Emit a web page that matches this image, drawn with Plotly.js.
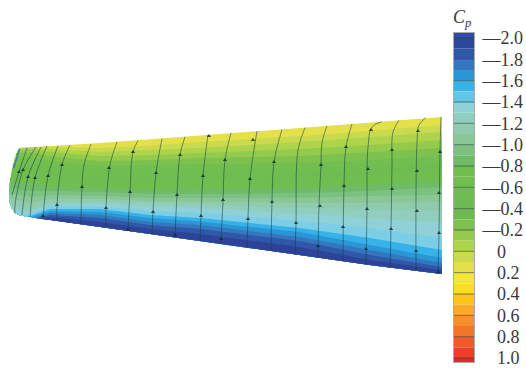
<!DOCTYPE html>
<html><head><meta charset="utf-8">
<script src="https://cdn.plot.ly/plotly-3.0.1.min.js"></script>
<style>html,body{margin:0;padding:0;background:#fff}#c{width:526px;height:368px}</style></head>
<body><div id="c"></div>
<script>
// Colour bar: band upper/lower Cp limits and colours, top to bottom
const bandLow  = [-2.047,-2.0,-1.9,-1.8,-1.7,-1.6,-1.5,-1.4,-1.3,-1.2,-1.1,-1.0,-0.9,-0.8,-0.7,-0.6,-0.5,-0.4,-0.3,-0.2,-0.1,0,0.1,0.2,0.3,0.4,0.5,0.6,0.7,0.8,0.9,1.0];
const bandHigh = [-2.0,-1.9,-1.8,-1.7,-1.6,-1.5,-1.4,-1.3,-1.2,-1.1,-1.0,-0.9,-0.8,-0.7,-0.6,-0.5,-0.4,-0.3,-0.2,-0.1,0,0.1,0.2,0.3,0.4,0.5,0.6,0.7,0.8,0.9,1.0,1.0375];
const bandColor = ['#2f4da4','#2d479f','#2f58a9','#3577bf','#2a96d6','#36b2e8','#62c5ea','#8fd1d6','#92cebe','#90cbae','#8ac797','#7cc180','#6fbb68','#70bd50','#70bd50','#6fbd52','#6dbb52','#6cbb52','#7dc24f','#95cb4c','#aed44c','#c9da4e','#e3e04a','#f2e63a','#fadf20','#fcc51c','#fbaa2a','#f68f2c','#f2752a','#ef5a2a','#ee3f2c','#e9252b'];
const lineCp = [-2.0,-1.8,-1.6,-1.4,-1.2,-1.0,-0.8,-0.6,-0.4,-0.2,0,0.2,0.4,0.6,0.8,1.0];
const negTicks = [-2.0,-1.8,-1.6,-1.4,-1.2,-1.0,-0.8,-0.6,-0.4,-0.2];
const negLabels = ['—2.0','—1.8','—1.6','—1.4','—1.2','—1.0','—0.8','—0.6','—0.4','—0.2'];
const posTicks = [0,0.2,0.4,0.6,0.8,1.0];
const posLabels = ['0','0.2','0.4','0.6','0.8','1.0'];

// Wing surface: Cp isolines read at these span stations
const stations = [30,50,100,150,200,300,370,442];
const isoLevels = [0.2,0.1,0,-0.1,-0.2,-0.3,-0.4,-0.5,-0.6,-0.7,-0.8,-0.9,-1.0,-1.1,-1.2,-1.3,-1.4,-1.5,-1.6,-1.7,-1.8,-1.9];
const noseX = [19,19,19,17.5,16,14.5,13,12,11,10,9.5,9,8.7,9,10,12.5,17,27,31,34,36,39];
const noseY = [148,148,148,150,153,158,163,168,173,178,183,188,193,198,204,208.5,214.2,216.5,217.3,218,218.3,218.7];
const iso = [
 [147.5,146,143,139.6,135.5,128,122.5,117],
 [147.5,146.5,148,145.5,142,136,131,125],
 [147.6,149,152,150,148,142,137,132],
 [149,152,156,155,153,149,145,140],
 [152,156,161,160,158,156,152,148],
 [157,161,166,165,164,163,160,156],
 [162,166,171,170,169,168,165,161],
 [167,171,176,175,174,173,170,166],
 [172,176,181,180,179,178,175,171],
 [177,181,186,185,184,183,180,176],
 [182,186,188,190,189,188,185,181],
 [191,191,192,194,194,193,191,187],
 [197,195,196,198,198,198,196,195],
 [203,199,199,201,202,203,203,202],
 [209,203,201,203,205,208,209,211],
 [212,204.5,204,206,208,214,218,223],
 [214.5,206,206.5,211,213,221,228,238],
 [216,209,209,215,218,228,238,250],
 [217.3,211,212,218,221.5,232,245,258],
 [218,213,215,222,225,237,250,263],
 [218.3,215,218,225,229,241,255,267],
 [218.7,217,222,229,234,247,260,270]
];
const isoColor = ['#e3e04a','#c9da4e','#aed44c','#95cb4c','#7dc24f','#72be50','#70bd50','#6fbd52','#70bd50','#70bd50','#6fbb68','#7cc180','#8ac797','#90cbae','#92cebe','#8fd1d6','#7ccde6','#36b2e8','#2a96d6','#3577bf','#2f58a9','#2f4299'];
const lowerX = [442,370,300,200,150,100,50,30,20,15,12,10,9];
const lowerY = [274,265,255,241,234,227,220,217,215.5,213,208.5,204,195];
const leadX = [19,15,13,14.5,17,20];
const leadY = [148,161,168,168,160,150];

// Surface streamlines
const streamX = [
 [27,19,12],[36,23,15,15],[41,28,22],[47,35,30],[58,48,43],[70,62,57,57],[91,84,82,81],[117,110,106,106],
 [138,133,130,128],[162,156,153,152],[185,180,177,175],[208,203,201,200],[231,225,223,221],[257,250,248,247],[282,274,272,271],
 [305,298,296,295],[327,322,321,319,318],[352,346,344,343],[382,372,368,367,366],[399,393,392,391,390],[426,419,417,416],[441,440,439,438]
];
const streamY = [
 [148,172,195],[147,170,205,213],[147,177,215],[146,178,217],[146,176,219],[145,165,205,221],[144,165,187,224],[142,165,208,227],
 [140.5,152,192,231],[138.7,173,212,234],[136.7,155,195,237.5],[134.9,176,216,241],[133,160,200,244],[131,179,219,247.7],[129.4,162,202,251],
 [127.6,150,223,254.3],[125.9,143,165,206,257.5],[124,147,186,261],[121.6,127,147,209,264.4],[120.2,132,166,229,268],[117.5,125,143,270.5],[117,152,233,273.6]
];
const arrowX = [19,23,28,35,48,62,57,43,82,106,109,133,130,128,156,153,180,177,175,203,201,209,225,223,221,250,248,253,274,272,296,321,320,318,346,344,343,371,368,367,366,392,392,391,418,417,417,416,440,439,439,438];
const arrowY = [172,170,177,178,176,165,205,216,187,208,168,152,192,230,173,212,155,195,235,176,216,136,160,200,239,179,219,140,162,202,223,165,206,246,147,186,227,130,169,209,249,150,189,229,131,171,211,251,152,193,233,272];

const traces = [];
// filled Cp bands, painted from the upper surface downward
isoLevels.forEach((lev,k)=>{
  const nx = noseX[k];
  const sx = [], sy = [];
  stations.forEach((s,j)=>{ if(s>nx){sx.push(s);sy.push(iso[k][j]);} });
  const onLower = k>=16;   // these isolines start on the lower surface
  const lx = [], ly = [];
  lowerX.forEach((s,j)=>{ if(!onLower || s>nx){lx.push(s);ly.push(lowerY[j]);} });
  traces.push({type:'scatter',mode:'lines',fill:'toself',fillcolor:isoColor[k],line:{width:0},hoverinfo:'skip',
    name:'Cp '+lev,
    x:[nx].concat(sx,lx),
    y:[noseY[k]].concat(sy,ly)});
});
traces.push({type:'scatter',mode:'lines',fill:'toself',fillcolor:'rgba(53,110,190,0.85)',line:{width:0},hoverinfo:'skip',x:leadX,y:leadY});
streamX.forEach((sx,i)=>{
  traces.push({type:'scatter',mode:'lines',x:sx,y:streamY[i],hoverinfo:'skip',
    line:{color:'rgba(15,60,60,0.6)',width:0.9,shape:'spline'}});
});
traces.push({type:'scatter',mode:'markers',x:arrowX,y:arrowY,hoverinfo:'skip',
  marker:{symbol:'triangle-up',size:3.8,color:'rgba(15,45,50,0.8)'}});
// colour bar
traces.push({type:'bar',xaxis:'x2',yaxis:'y2',x:bandLow.map(()=>0.5),width:1,
  base:bandLow,y:bandHigh.map((h,i)=>h-bandLow[i]),marker:{color:bandColor,line:{width:0}},hoverinfo:'skip'});
// dark separators in the colour bar (also carries the right-hand axis)
const sepX=[],sepY=[];
lineCp.forEach(v=>{sepX.push(0,1,null);sepY.push(v,v,null);});
traces.push({type:'scatter',mode:'lines',xaxis:'x2',yaxis:'y3',x:sepX,y:sepY,hoverinfo:'skip',
  line:{color:'rgba(40,60,60,0.6)',width:1}});

const font={family:'"Liberation Serif",serif',size:18,color:'#3a3a3a'};
const barRange=[1.0375,-2.047];
const barDomain=[1-362/368,1-33/368];
Plotly.newPlot('c',traces,{
  width:526,height:368,showlegend:false,barmode:'overlay',
  paper_bgcolor:'#fff',plot_bgcolor:'#fff',
  margin:{l:0,r:0,t:0,b:0,pad:0},
  xaxis:{range:[0,526],domain:[0,1],visible:false,fixedrange:true},
  yaxis:{range:[368,0],domain:[0,1],visible:false,fixedrange:true},
  xaxis2:{range:[0,1],domain:[454/526,474/526],anchor:'y2',showticklabels:false,ticks:'',showgrid:false,zeroline:false,showline:true,mirror:true,linecolor:'#a8a8a8',linewidth:1,fixedrange:true},
  yaxis2:{range:barRange,domain:barDomain,anchor:'x2',side:'right',tickmode:'array',tickvals:negTicks,ticktext:negLabels,
    ticks:'',ticklabelstandoff:4,ticklabeloverflow:'allow',showgrid:false,zeroline:false,showline:true,mirror:true,linecolor:'#a8a8a8',linewidth:1,tickfont:font,fixedrange:true},
  yaxis3:{range:barRange,domain:barDomain,anchor:'x2',overlaying:'y2',side:'right',tickmode:'array',tickvals:posTicks,ticktext:posLabels,
    ticks:'',ticklabelstandoff:22,ticklabeloverflow:'allow',showgrid:false,zeroline:false,showline:false,tickfont:font,fixedrange:true},
  annotations:[{xref:'paper',yref:'paper',x:462/526,y:1-18/368,showarrow:false,xanchor:'center',yanchor:'middle',
    text:'<i>C<sub>p</sub></i>',font:{family:'"Liberation Serif",serif',size:18,color:'#3a3a3a'}}]
},{displayModeBar:false,staticPlot:true});
</script></body></html>
